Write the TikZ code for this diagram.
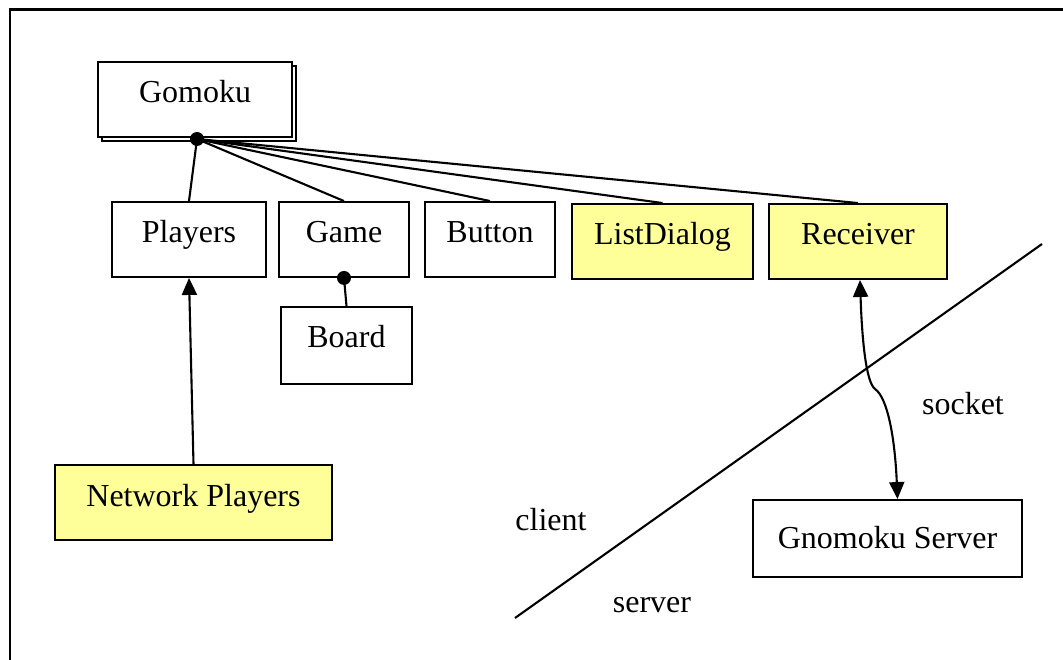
\documentclass[tikz,border=0pt]{standalone}
\usepackage{fontspec}
\setmainfont{Liberation Serif}
\usetikzlibrary{arrows.meta,calc}
\definecolor{noteyellow}{RGB}{255,255,153}
\begin{document}
\begin{tikzpicture}[x=1pt,y=-1pt,
  every node/.style={font=\fontsize{32}{38}\selectfont},
  box/.style={draw=black,line width=1.9pt,fill=white,inner sep=0pt,
    text height=41pt,text depth=34pt},
  hot/.style={box,fill=noteyellow},
  link/.style={line width=2.1pt},
  tip/.style={-{Triangle[length=17pt,width=15pt]}},
  dot/.style={circle,fill=black,inner sep=0pt,minimum size=14pt},
  label/.style={inner sep=0pt,anchor=base}]
\useasboundingbox (0,0) rectangle (1063,660);
% page frame, only its top and left edges fall inside the picture
\begin{scope}
  \clip (0,0) rectangle (1063,660);
  \draw[line width=2.2pt] (10,9.5) rectangle (1100,700);
\end{scope}

% raised outline behind the Gomoku box
\draw[line width=2.2pt,fill=white] (102,66) rectangle (296,141);

% class boxes
\node[box,minimum width=194pt] (gomoku) at (195,99.5) {Gomoku};
\node[box,minimum width=154pt] (players) at (189,239.5) {Players};
\node[box,minimum width=130pt] (game) at (344,239.5) {Game};
\node[box,minimum width=130pt] (button) at (490,239.5) {Button};
\node[hot,minimum width=181pt] (listdialog) at (662.5,241.5) {ListDialog};
\node[hot,minimum width=178pt] (receiver) at (858,241.5) {Receiver};
\node[box,minimum width=131pt,text depth=36pt] (board) at (346.5,345.5) {Board};
\node[hot,minimum width=277pt] (netplayers) at (193.5,502.5) {Network Players};
\node[box,minimum width=269pt,text height=48pt,text depth=29pt] (server) at (887.5,538.5) {Gnomoku Server};

% composition links from Gomoku
\coordinate (gdot) at (197,139);
\foreach \t in {players,game,button,listdialog,receiver}
  \draw[link] (gdot) -- (\t.north);
\node[dot] (gomokudot) at (gdot) {};

% Game owns Board
\draw[link] (game.south) -- (board.north);
\node[dot] (gamedot) at (game.south) {};

% Network Players extends Players
\draw[link,tip] (netplayers.north) -- (players.south);

% client / server divide
\coordinate (divA) at (515,618);
\coordinate (divB) at (1042,244);
\draw[link] (divA) -- (divB);

% socket between Receiver and the server
\coordinate (rsock) at ($(receiver.south)+(2,0)$);
\coordinate (ssock) at ($(server.north)+(10,0)$);
\draw[link,{Triangle[length=17pt,width=15pt]}-{Triangle[length=17pt,width=15pt]}]
  (rsock) .. controls (862,340) and (866,382) .. (875,389)
  .. controls (888,398) and (895,440) .. (ssock);

% texts
\node[label] (socket) at (963,414) {socket};
\node[label] (client) at (551,530) {client};
\node[label] (serverlbl) at (652,612) {server};
\end{tikzpicture}
\end{document}
